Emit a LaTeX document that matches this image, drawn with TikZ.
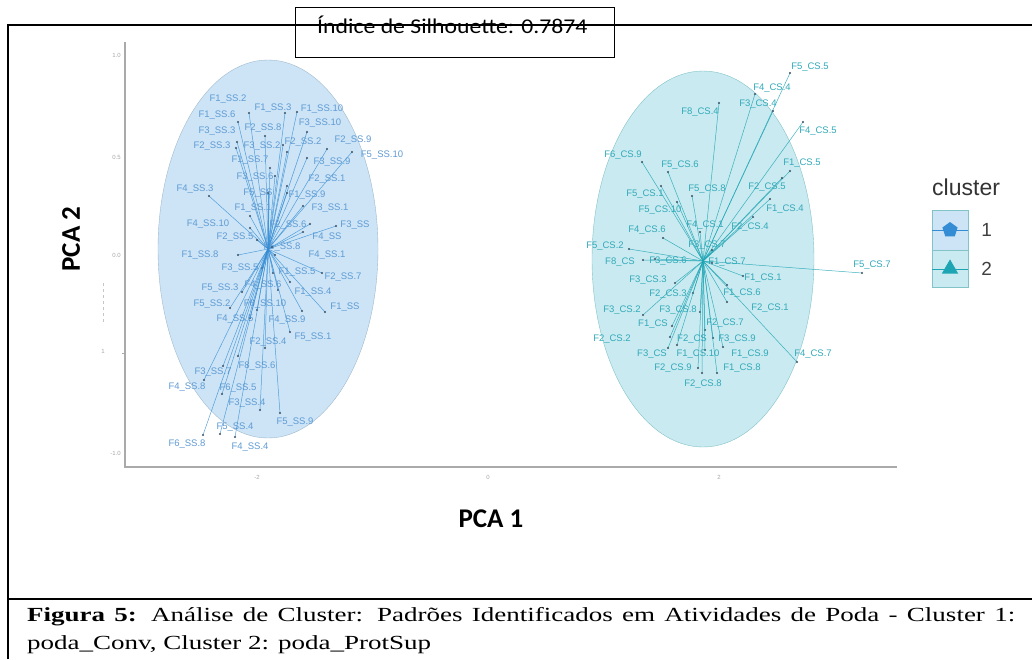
\documentclass[tikz,border=0pt]{standalone}
\usepackage{fontspec}
\setmainfont{Liberation Serif}
\setsansfont{Liberation Sans}
\newfontfamily\calfont{Carlito}
\newfontfamily\silfont[FakeStretch=1.13]{Carlito}
\newfontfamily\capfont[FakeStretch=1.35]{Liberation Serif}
\usetikzlibrary{shapes.geometric, positioning}

\definecolor{rayA}{RGB}{52,140,212}
\definecolor{txtA}{RGB}{95,155,212}
\definecolor{fillA}{RGB}{204,228,246}
\definecolor{edgeA}{RGB}{160,185,205}
\definecolor{rayB}{RGB}{30,165,180}
\definecolor{txtB}{RGB}{50,170,185}
\definecolor{fillB}{RGB}{200,234,240}
\definecolor{edgeB}{RGB}{130,195,200}
\definecolor{dotc}{RGB}{60,80,100}
\definecolor{axisc}{RGB}{170,170,170}

\begin{document}
\begin{tikzpicture}[x=1pt, y=-1pt, every node/.style={inner sep=0pt},
  lblA/.style={text=txtA, font=\fontsize{9.5}{10}\sffamily},
  lblB/.style={text=txtB, font=\fontsize{9.5}{10}\sffamily},
  tick/.style={text=gray!70, font=\fontsize{6}{6}\sffamily}]
\useasboundingbox (0,0) rectangle (1032,659);
% Frame
\draw[line width=1.4] (8,659) -- (8,25) -- (1032,25);
\draw[line width=1.4] (8,599) -- (1032,599);
\node[draw, line width=0.8, minimum width=319, minimum height=50, anchor=north west] (silbox) at (295,7) {};
\node[font=\fontsize{21}{21}\silfont, anchor=base west] (siltxt) at (317,33) {Índice de Silhouette: 0.7874};
% Axes
\draw[axisc, line width=1.5] (125,42) -- (125,467) -- (897,467);
\foreach \v/\yy in {1.0/55, 0.5/157, 0.0/255, -1.0/453}
  \node[tick, anchor=east] (yt\yy) at (121,\yy) {\v};
\draw[axisc] (122,353) -- (125,353);
\node[tick] (ytm) at (103,351) {1};
\draw[gray!45, dashed] (103,283) -- (103,325);
\foreach \v/\xx in {-2/257, 0/488, 2/719}
  \node[tick] (xt\xx) at (\xx,477) {\v};
\node[font=\fontsize{27}{27}\calfont\bfseries, rotate=90] (ylab) at (71,239) {PCA 2};
\node[font=\fontsize{27}{27}\calfont\bfseries] (xlab) at (491,519) {PCA 1};
% Clusters
\draw[fill=fillA, draw=edgeA] (268,249) ellipse [x radius=110, y radius=189];
\draw[fill=fillB, draw=edgeB] (703,259) ellipse [x radius=111, y radius=188];
\coordinate (hubA) at (268,249);
\coordinate (hubB) at (703,261);
\foreach \nm/\lx/\ly/\px/\py [count=\i] in {
  F1\_SS.2/228/99/249/113, F1\_SS.6/217/115/238/122, F1\_SS.3/273/108/285/113,
  F1\_SS.10/322/109/297/112, F3\_SS.10/320/123/307/132, F3\_SS.3/217/131/237/142,
  F2\_SS.8/263/128/265/136, F2\_SS.3/212/146/236/148, F3\_SS.2/262/146/283/145,
  F2\_SS.2/303/142/287/152, F2\_SS.9/353/140/327/149, F5\_SS.10/382/155/352/152,
  F1\_SS.7/250/160/270/168, F3\_SS.9/332/162/307/158, F3\_SS.6/255/177/275/176,
  F2\_SS.1/327/179/287/186, F4\_SS.3/195/189/209/196, F5\_SS/258/193/268/193,
  F1\_SS.9/307/195/287/193, F1\_SS.1/253/208/250/216, F3\_SS.1/330/208/303/206,
  F4\_SS.10/208/224/250/228, F2\_SS.6/288/225/310/224, F3\_SS/355/225/336/226,
  F2\_SS.5/235/237/257/240, F4\_SS/327/237/303/232, F5\_SS.8/282/247/272/247,
  F1\_SS.8/200/255/238/255, F4\_SS.1/327/255/275/255, F3\_SS.5/240/268/262/268,
  F1\_SS.5/297/272/273/273, F2\_SS.7/343/277/322/273, F5\_SS.3/220/288/242/292,
  F4\_SS.6/263/285/278/290, F1\_SS.4/313/292/290/282, F5\_SS.2/212/304/230/308,
  F6\_SS.10/265/304/257/310, F1\_SS/345/307/325/312, F4\_SS.5/235/319/250/318,
  F4\_SS.9/287/320/302/311, F5\_SS.1/313/337/290/332, F2\_SS.4/268/342/265/348,
  F8\_SS.6/257/366/238/356, F3\_SS.7/213/372/223/366, F4\_SS.8/187/387/204/380,
  F6\_SS.5/238/388/222/394, F3\_SS.4/247/403/260/410, F5\_SS.9/295/422/280/413,
  F5\_SS.4/235/427/220/434, F6\_SS.8/187/444/203/435, F4\_SS.4/250/447/235/437}
{
  \coordinate (a\i) at (\px,\py);
  \draw[rayA, line width=0.5, opacity=0.8] (hubA) -- (a\i);
  \fill[dotc] (a\i) circle (1.1);
  \node[lblA] (la\i) at (\lx,\ly) {\nm};
}
\foreach \nm/\lx/\ly/\px/\py [count=\i] in {
  F5\_CS.5/810/67/790/73, F4\_CS.4/772/88/755/94, F3\_CS.4/758/104/773/111,
  F8\_CS.4/700/112/719/103, F4\_CS.5/818/131/803/122, F6\_CS.9/623/155/642/162,
  F5\_CS.6/680/165/668/172, F1\_CS.5/802/163/790/171, F5\_CS.1/645/194/661/186,
  F5\_CS.8/707/189/692/196, F2\_CS.5/767/187/782/178, F5\_CS.10/660/210/677/202,
  F1\_CS.4/785/209/770/199, F4\_CS.6/647/230/663/238, F4\_CS.1/705/225/700/232,
  F2\_CS.4/750/227/753/217, F5\_CS.2/605/246/629/249, F3\_CS.7/707/245/712/250,
  F8\_CS/620/262/643/260, F3\_CS.6/668/261/655/259, F1\_CS.7/727/262/712/263,
  F5\_CS.7/872/265/862/273, F3\_CS.3/648/280/675/283, F1\_CS.1/763/278/743/276,
  F2\_CS.3/668/294/693/293, F1\_CS.6/742/293/727/285, F3\_CS.2/622/310/643/315,
  F3\_CS.8/678/310/700/312, F2\_CS.1/770/308/727/302, F1\_CS/653/324/672/326,
  F2\_CS.7/725/323/705/330, F2\_CS.2/612/339/670/337, F2\_CS/692/339/677/345,
  F3\_CS.9/737/339/713/338, F3\_CS/652/354/668/348, F1\_CS.10/698/354/705/350,
  F1\_CS.9/750/354/723/347, F4\_CS.7/813/354/797/362, F2\_CS.9/673/368/698/368,
  F1\_CS.8/742/368/717/373, F2\_CS.8/703/384/702/373}
{
  \coordinate (b\i) at (\px,\py);
  \draw[rayB, line width=0.5, opacity=0.85] (hubB) -- (b\i);
  \fill[dotc] (b\i) circle (1.1);
  \node[lblB] (lb\i) at (\lx,\ly) {\nm};
}
% Legend
\node[font=\fontsize{23}{23}\sffamily, text=black!80, anchor=base west] (legtitle) at (932,195) {cluster};
\node[draw=edgeB, fill=fillA, minimum width=36, minimum height=40] (keyA) at (950,230) {};
\node[draw=edgeB, fill=fillB, minimum width=36, minimum height=37, below=0pt of keyA] (keyB) {};
\draw[rayA, line width=0.8] (keyA.west) -- (keyA.east);
\draw[rayB, line width=0.8] (keyB.west) -- (keyB.east);
\node[regular polygon, regular polygon sides=5, fill=rayA, minimum size=16] (symA) at (keyA) {};
\node[regular polygon, regular polygon sides=3, fill=rayB, minimum size=19] (symB) at (keyB) {};
\node[font=\fontsize{19}{19}\sffamily, text=black!75, right=13pt of keyA] (numA) {1};
\node[font=\fontsize{19}{19}\sffamily, text=black!75, right=13pt of keyB] (numB) {2};
% Caption
\node[anchor=north west, text width=988, align=justify, font=\fontsize{20}{28}\capfont] (caption) at (27,607)
  {\textbf{Figura 5:} Análise de Cluster: Padrões Identificados em Atividades de Poda - Cluster 1:\linebreak poda\_Conv, Cluster 2: poda\_ProtSup};
\end{tikzpicture}
\end{document}
